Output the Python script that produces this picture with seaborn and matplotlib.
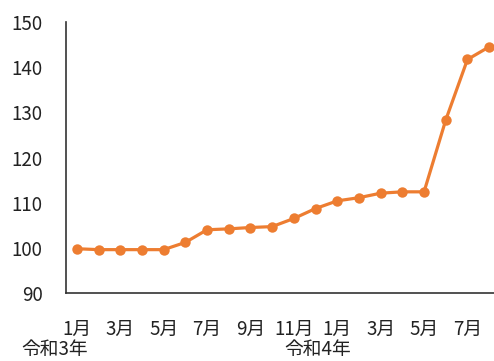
import matplotlib
matplotlib.use('Agg')
import matplotlib.pyplot as plt
import matplotlib.transforms as mtransforms
import seaborn as sns
import pandas as pd

# 令和3年1月〜令和4年8月の指数
months = ['1月', '2月', '3月', '4月', '5月', '6月', '7月', '8月', '9月', '10月', '11月', '12月',
          '1月', '2月', '3月', '4月', '5月', '6月', '7月', '8月']
values = [99.8, 99.6, 99.6, 99.6, 99.6, 101.2, 104.0, 104.2, 104.5, 104.7, 106.5, 108.7,
          110.4, 111.1, 112.1, 112.4, 112.4, 128.3, 141.7, 144.5]
year_labels = ['令和3年', '令和4年']
year_pos = [-1.0, 11.1]

df = pd.DataFrame({'idx': range(len(values)), 'value': values})

sns.set_style('white')
plt.rcParams['font.family'] = ['Noto Sans CJK JP', 'DejaVu Sans']

fig = plt.figure(figsize=(4.94, 3.61), dpi=100)
ax = fig.add_axes([66 / 494, 68 / 361, 434 / 494, 271 / 361])

sns.lineplot(data=df, x='idx', y='value', ax=ax, color='#ED7D31', linewidth=2.3,
             marker='o', markersize=7.5, markeredgewidth=0)

ax.set_xlim(-0.5, 19.5)
ax.set_ylim(90, 150)
ax.set_yticks(range(90, 151, 10))
ax.set_xticks(range(0, 20, 2))
ax.set_xticklabels(months[::2])
ax.tick_params(axis='both', length=0, labelsize=13.5, colors='#222222')
ax.tick_params(axis='x', pad=19)
ax.tick_params(axis='y', pad=17)
ax.set_xlabel('')
ax.set_ylabel('')

for side in ['top', 'right']:
    ax.spines[side].set_visible(False)
for side in ['left', 'bottom']:
    ax.spines[side].set_color('#333333')
    ax.spines[side].set_linewidth(1.2)

trans = mtransforms.blended_transform_factory(ax.transData, fig.transFigure)
for lbl, pos in zip(year_labels, year_pos):
    ax.text(pos, 12 / 361, lbl, transform=trans, ha='center', va='center',
            fontsize=13.5, color='#222222', clip_on=False)

fig.savefig('out.png', dpi=100, facecolor='white')
